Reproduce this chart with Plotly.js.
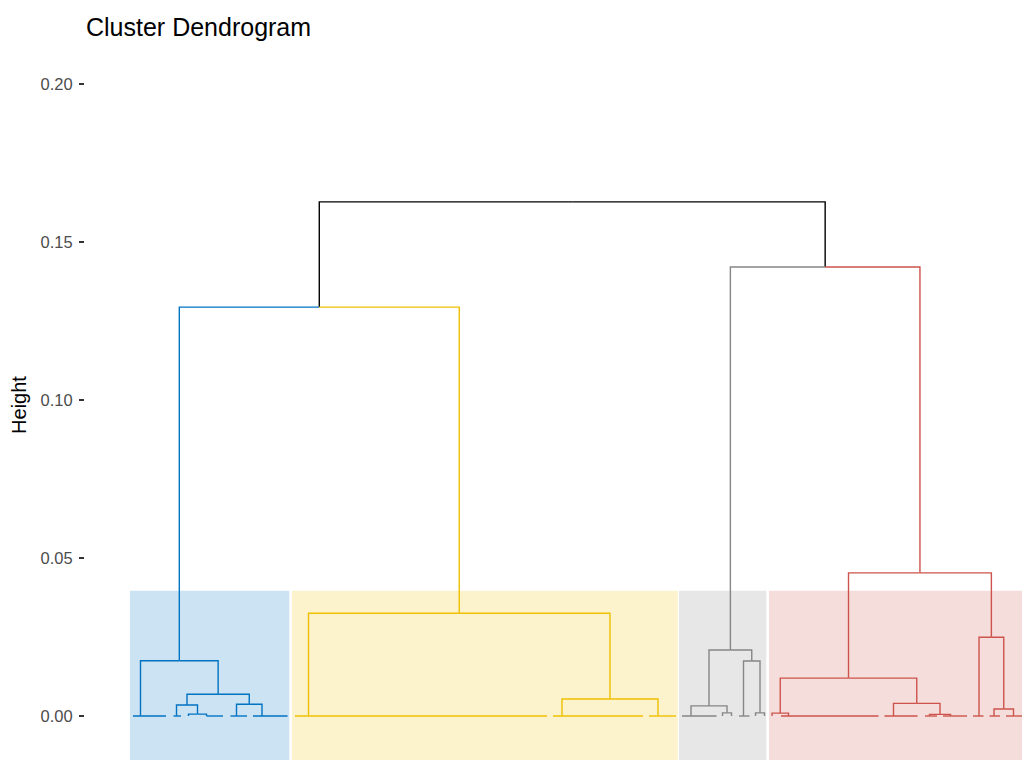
<!DOCTYPE html>
<html>
<head>
<meta charset="utf-8">
<script src="https://cdn.plot.ly/plotly-3.0.1.min.js"></script>
<style>html,body{margin:0;padding:0;background:#fff;}#chart{width:1022px;height:760px;}</style>
</head>
<body>
<div id="chart"></div>
<script>
// ---- Data: leaf groups (leaves joined at height 0), in leaf-order units ----
const groupStart  = [1, 14.5, 19.5, 25.5, 33.5, 41,   55, 141, 173,   184, 197.5, 200.5, 203, 208.5, 211.5,   214, 217, 251.5, 265, 271, 281, 286.5, 292];
const groupEnd    = [12, 17, 19.5, 31, 39, 52.5,      139, 171, 182,  195.5, 197.5, 200.5, 206.5, 208.5, 211.5, 214, 249.5, 262.5, 269, 279, 284.5, 290, 302];
const groupAnchor = [3.5, 15.5, 19.5, 25.5, 35.5, 44, 59.5, 144, 176, 187, 197.5, 200.5, 204.5, 208.5, 211.5,   214, 219.5, 254.5, 266.5, 273.5, 283, 288, 294.5];
const groupCluster= [1,1,1,1,1,1, 2,2,2, 3,3,3,3,3,3, 4,4,4,4,4,4,4,4];

// ---- Data: merges (hclust style: negative = leaf group, positive = earlier merge) ----
const mergeA      = [-3, -2, -5, 2, -1, -8, -7, 5, -11, -10, -14, -13, 10, -16, -19, -18, 14, -22, -21, 17, 13, 8];
const mergeB      = [-4,  1, -6, 3,  4, -9,  6, 7, -12,   9, -15,  11, 12, -17, -20,  15, 16, -23,  18, 19, 20, 21];
const mergeHeight = [0.0006, 0.0035, 0.0037, 0.0069, 0.0175, 0.0054, 0.0325, 0.1294,
                     0.0010, 0.0032, 0.0010, 0.0174, 0.0209,
                     0.0009, 0.0005, 0.0040, 0.0120, 0.0022, 0.0249, 0.0453, 0.1421, 0.1627];

const clusterColors = ['#0073C2', '#EFC000', '#868686', '#CD534C'];
const clusterFills  = ['rgba(0,115,194,0.2)', 'rgba(239,192,0,0.2)', 'rgba(134,134,134,0.2)', 'rgba(205,83,76,0.2)'];
const rectTop = 0.0396;
const rectBottom = -0.03;

const yTicks = [0, 0.05, 0.10, 0.15, 0.20];
const yTickText = ['0.00', '0.05', '0.10', '0.15', '0.20'];

// ---- Layout of the tree ----
const nodeX = {}, nodeH = {}, nodeC = {};
function key(c){ return c < 0 ? 'g' + (-c) : 'm' + c; }
groupStart.forEach((s, i) => {
  const k = 'g' + (i + 1);
  nodeX[k] = groupAnchor[i]; nodeH[k] = 0; nodeC[k] = groupCluster[i];
});
mergeHeight.forEach((h, i) => {
  const a = key(mergeA[i]), b = key(mergeB[i]), k = 'm' + (i + 1);
  nodeX[k] = (nodeX[a] + nodeX[b]) / 2;
  nodeH[k] = h;
  nodeC[k] = (nodeC[a] === nodeC[b]) ? nodeC[a] : 0;
});

// segments per colour (0 = black)
const segs = {0: {x: [], y: []}, 1: {x: [], y: []}, 2: {x: [], y: []}, 3: {x: [], y: []}, 4: {x: [], y: []}};
function addSeg(c, xs, ys){ segs[c].x.push(...xs, null); segs[c].y.push(...ys, null); }
mergeHeight.forEach((h, i) => {
  const p = nodeX['m' + (i + 1)];
  [mergeA[i], mergeB[i]].forEach(ch => {
    const k = key(ch);
    addSeg(nodeC[k], [p, nodeX[k], nodeX[k]], [h, h, nodeH[k]]);
  });
});
groupStart.forEach((s, i) => {
  if (groupEnd[i] > s) addSeg(groupCluster[i], [s, groupEnd[i]], [0, 0]);
});

const traces = [0, 1, 2, 3, 4].map(c => ({
  type: 'scatter', mode: 'lines', x: segs[c].x, y: segs[c].y,
  line: {color: c === 0 ? '#000000' : clusterColors[c - 1], width: 1.4},
  hoverinfo: 'skip', showlegend: false, connectgaps: false
}));

// cluster rectangles
const shapes = [1, 2, 3, 4].map(c => {
  let lo = Infinity, hi = -Infinity;
  groupCluster.forEach((g, i) => { if (g === c) { lo = Math.min(lo, groupStart[i]); hi = Math.max(hi, groupEnd[i]); } });
  return {type: 'rect', xref: 'x', yref: 'y', x0: lo - 1, x1: hi + 0.6, y0: rectBottom, y1: rectTop,
          fillcolor: clusterFills[c - 1], line: {width: 0}, layer: 'below'};
});

const layout = {
  width: 1022, height: 760,
  margin: {l: 85, r: 0, t: 50, b: 0, pad: 0},
  paper_bgcolor: '#ffffff', plot_bgcolor: '#ffffff',
  font: {family: 'Liberation Sans, Arial, sans-serif'},
  title: {text: 'Cluster Dendrogram', x: 86 / 1022, xref: 'container', xanchor: 'left',
          y: 1 - 27 / 760, yref: 'container', yanchor: 'middle',
          font: {size: 25, color: '#000000', family: 'Liberation Sans, Arial, sans-serif'}},
  xaxis: {range: [-15, 297.33], visible: false, showgrid: false, zeroline: false, fixedrange: true},
  yaxis: {range: [-0.013924, 0.21076], tickvals: yTicks, ticktext: yTickText,
          ticks: 'outside', ticklen: 5, tickwidth: 1.1, tickcolor: '#333333', ticklabelstandoff: 3,
          tickfont: {size: 16.5, color: '#4D4D4D'}, showgrid: false, zeroline: false, showline: false,
          title: {text: 'Height', font: {size: 20, color: '#000000'}, standoff: 8}},
  shapes: shapes
};

Plotly.newPlot('chart', traces, layout, {displayModeBar: false, staticPlot: true});
</script>
</body>
</html>
